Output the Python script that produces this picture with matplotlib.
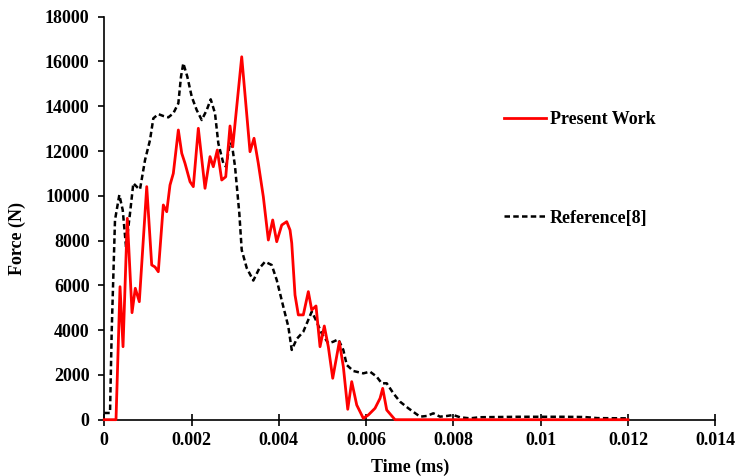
import matplotlib
matplotlib.use("Agg")
import matplotlib.pyplot as plt

# ---- data ----
present_t = [0.0, 0.000270, 0.000362, 0.000431, 0.000529, 0.000637, 0.000712, 0.000804,
             0.000974, 0.001088, 0.001164, 0.001239, 0.001354, 0.001432, 0.001507, 0.001583,
             0.001698, 0.001776, 0.001851, 0.001966, 0.002041, 0.002156, 0.002309, 0.002424,
             0.002499, 0.002591, 0.002692, 0.002784, 0.002882, 0.002944, 0.003150, 0.003340,
             0.003432, 0.003530, 0.003645, 0.003760, 0.003860, 0.003952, 0.004067, 0.004181,
             0.004257, 0.004296, 0.004371, 0.004447, 0.004561, 0.004676, 0.004754, 0.004852,
             0.004944, 0.005042, 0.005134, 0.005235, 0.005386, 0.005478, 0.005579, 0.005670,
             0.005785, 0.005936, 0.006051, 0.006204, 0.006319, 0.006380, 0.006472, 0.006662,
             0.012]
present_f = [0, 0, 5940, 3260, 8995, 4780, 5870, 5270,
             10410, 6910, 6820, 6610, 9590, 9290, 10480, 11000,
             12940, 11900, 11450, 10630, 10410, 13015, 10335, 11750,
             11300, 12045, 10705, 10850, 13120, 12190, 16210, 11970,
             12570, 11450, 9960, 8025, 8920, 7950, 8695, 8845,
             8470, 7890, 5570, 4680, 4680, 5720, 4900, 5080,
             3260, 4185, 3260, 1850, 3480, 2370, 465, 1700,
             655, 60, 210, 510, 955, 1400, 433, 0,
             0]

ref_t = [0.0, 0.000133, 0.000172, 0.000247, 0.000346, 0.000424, 0.000499, 0.000591,
         0.000667, 0.000781, 0.000820, 0.000935, 0.001049, 0.001125, 0.001239, 0.001354,
         0.001469, 0.001583, 0.001698, 0.001759, 0.001812, 0.001904, 0.002005, 0.002119,
         0.002234, 0.002348, 0.002440, 0.002538, 0.002614, 0.002729, 0.002790, 0.002882,
         0.002928, 0.002997, 0.003095, 0.003150, 0.003265, 0.003416, 0.003553, 0.003684,
         0.003837, 0.003952, 0.004103, 0.004218, 0.004296, 0.004410, 0.004561, 0.004754,
         0.004830, 0.004983, 0.005134, 0.005249, 0.005363, 0.005478, 0.005556, 0.005707,
         0.005936, 0.006089, 0.006243, 0.006357, 0.006472, 0.006623, 0.006777, 0.006967,
         0.007235, 0.007388, 0.007540, 0.007693, 0.007847, 0.007998, 0.008151, 0.008380,
         0.008600, 0.009500, 0.010500, 0.011000, 0.011300, 0.012000]
ref_f = [300, 300, 4000, 8920, 10040, 9365, 7730, 9220,
         10560, 10335, 10290, 11600, 12490, 13460, 13650, 13565,
         13505, 13685, 14130, 15320, 15920, 15320, 14425, 13830,
         13385, 13830, 14310, 13685, 12345, 11450, 11300, 12380,
         12270, 11300, 9220, 7580, 6775, 6215, 6760, 7055,
         6910, 6240, 5045, 4155, 3115, 3605, 3930, 4825,
         4530, 3860, 3410, 3485, 3590, 3115, 2445, 2175,
         2070, 2145, 1920, 1625, 1625, 1180, 805, 510,
         135, 165, 285, 135, 165, 210, 107, 60,
         110, 130, 130, 120, 70, 60]

x_ticks = [0, 0.002, 0.004, 0.006, 0.008, 0.010, 0.012, 0.014]
x_tick_labels = ["0", "0.002", "0.004", "0.006", "0.008", "0.01", "0.012", "0.014"]
y_ticks = [0, 2000, 4000, 6000, 8000, 10000, 12000, 14000, 16000, 18000]
y_tick_labels = [str(v) for v in y_ticks]

# ---- figure ----
plt.rcParams['font.family'] = ['Liberation Serif', 'DejaVu Serif']
plt.rcParams['font.weight'] = 'bold'

fig = plt.figure(figsize=(7.36, 4.76), dpi=100)
ax = fig.add_axes([0.1416, 0.1183, 0.8303, 0.8466])

ref_line, = ax.plot(ref_t, ref_f, color='black', lw=1.8, dashes=(2.2, 1.3),
                    clip_on=False, zorder=3, solid_joinstyle='round')
pw_line, = ax.plot(present_t, present_f, color='#ff0000', lw=2.0,
                   clip_on=False, zorder=4, solid_joinstyle='round')

ax.set_xlim(0, 0.014)
ax.set_ylim(0, 18000)
ax.set_xticks(x_ticks)
ax.set_xticklabels(x_tick_labels)
ax.set_yticks(y_ticks)
ax.set_yticklabels(y_tick_labels)

for s in ['top', 'right']:
    ax.spines[s].set_visible(False)
for s in ['left', 'bottom']:
    ax.spines[s].set_linewidth(1.2)
    ax.spines[s].set_zorder(2)

ax.tick_params(axis='x', direction='inout', length=8, width=1.2, pad=5, labelsize=13)
ax.tick_params(axis='y', direction='out', length=4.5, width=1.2, pad=6, labelsize=13)
for lab in ax.get_xticklabels() + ax.get_yticklabels():
    lab.set_fontweight('bold')

ax.set_xlabel('Time (ms)', fontsize=13, fontweight='bold', labelpad=7)
ax.set_ylabel('Force (N)', fontsize=13, fontweight='bold')
ax.yaxis.set_label_coords(-0.128, 0.45)

leg1 = ax.legend(handles=[pw_line], labels=['Present Work'], loc='center left',
                 bbox_to_anchor=(0.655, 0.745), frameon=False, fontsize=13,
                 handlelength=2.3, handletextpad=0.2, borderaxespad=0, borderpad=0)
for t in leg1.get_texts():
    t.set_fontweight('bold')
ax.add_artist(leg1)
leg2 = ax.legend(handles=[ref_line], labels=['Reference[8]'], loc='center left',
                 bbox_to_anchor=(0.655, 0.50), frameon=False, fontsize=13,
                 handlelength=2.3, handletextpad=0.2, borderaxespad=0, borderpad=0)
for t in leg2.get_texts():
    t.set_fontweight('bold')

fig.savefig('out.png', dpi=100)
